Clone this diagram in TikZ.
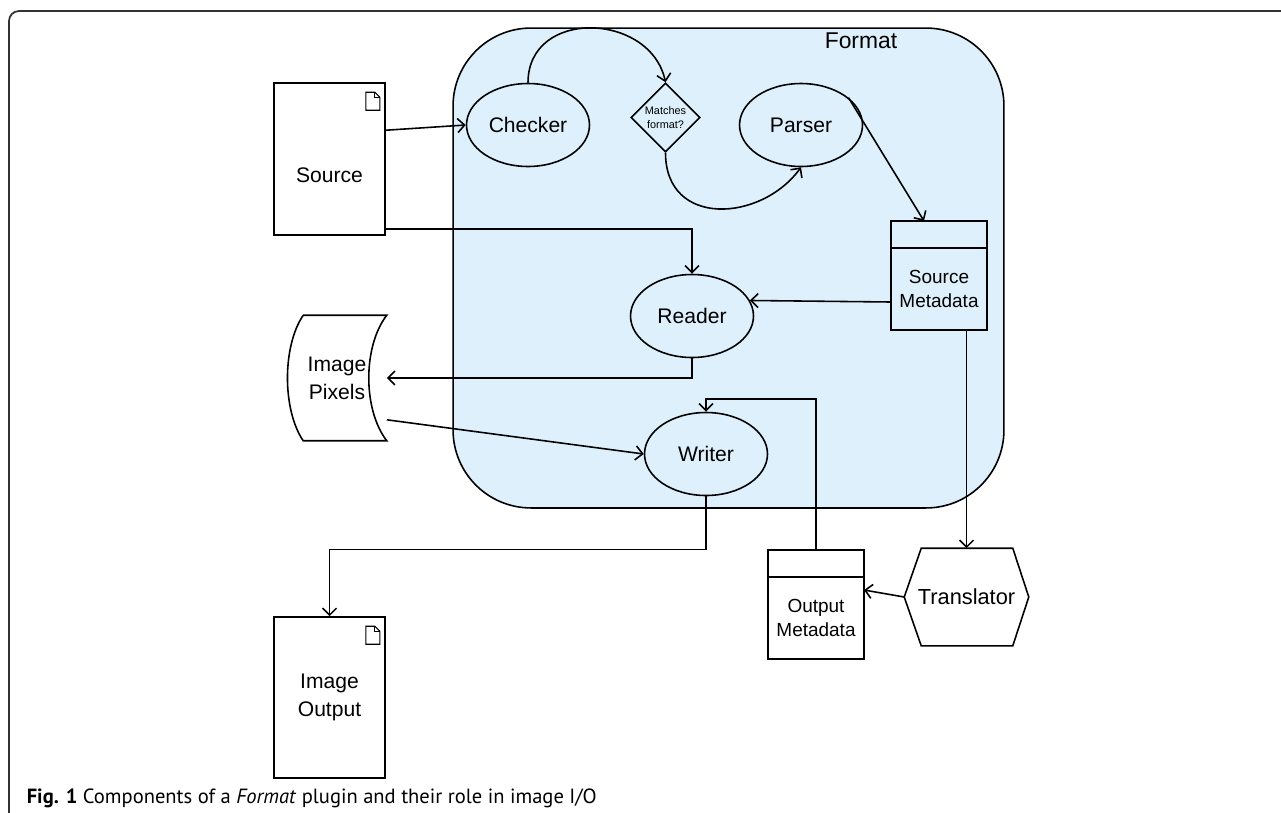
\documentclass[tikz,border=0pt]{standalone}
\usepackage{fontspec}
\setmainfont{Liberation Sans}
\newfontfamily\capfont{PT Sans}
\usetikzlibrary{shapes,arrows.meta,positioning,calc}
\definecolor{fmtblue}{RGB}{221,240,251}
\definecolor{framegray}{RGB}{50,50,50}

\begin{document}
\begin{tikzpicture}[
    x=0.02cm, y=-0.02cm,
    line width=0.9pt,
    fmtbox/.style={rectangle, draw, fill=fmtblue, rounded corners=1.56cm, minimum width=11.02cm, minimum height=9.6cm},
    proc/.style={ellipse, draw, minimum width=2.46cm, minimum height=1.66cm, inner sep=0pt, font=\fontsize{12}{14}\selectfont},
    doc/.style={rectangle, draw, minimum width=2.22cm, minimum height=3.04cm, align=center, font=\fontsize{12}{16}\selectfont},
    meta/.style={rectangle, draw, outer sep=0pt, minimum width=1.92cm, minimum height=1.64cm, inner sep=0pt, align=center, font=\fontsize{10.8}{14}\selectfont},
    metahead/.style={rectangle, draw, outer sep=0pt, minimum width=1.92cm, minimum height=0.54cm},
    decision/.style={diamond, draw, aspect=1, minimum width=1.38cm, minimum height=1.38cm, inner sep=0pt, align=center, font=\fontsize{6.2}{8}\selectfont},
    datastore/.style={rectangle, minimum width=1.96cm, minimum height=2.48cm, inner sep=0pt, align=center, font=\fontsize{12}{16}\selectfont},
    hexbox/.style={rectangle, minimum width=2.46cm, minimum height=1.92cm, inner sep=0pt, font=\fontsize{12.4}{14}\selectfont},
    arrow/.style={-{Straight Barb[length=4pt,width=8pt]}}
]
    \useasboundingbox (0,0) rectangle (1281,812);
    \draw[framegray, line width=1pt, rounded corners=0.2cm] (9,830) |- (1300,11);

    % the plugin
    \node[fmtbox] (fmt) at (728.5,268) {};
    \node[font=\fontsize{13}{15}\selectfont] (fmtlabel) at (861,41) {Format};

    \node[doc, text height=0.94cm, text depth=0pt] (src) at (329.5,159) {Source};
    \node[proc] (checker) at (528,125) {Checker};
    \node[decision] (match) at (665.5,117.5) {Matches\\format?};
    \node[proc] (parser) at (801,125) {Parser};
    \node[meta] (smeta) at (939,289) {Source\\Metadata};
    \node[metahead, above=0pt of smeta] (smetah) {};
    \node[proc] (reader) at (692,316) {Reader};
    \node[datastore] (pix) at (337,378) {Image\\Pixels};
    \node[proc] (writer) at (706,454) {Writer};
    \node[doc, minimum height=3.22cm] (out) at (329.5,697.5) {Image\\Output};
    \node[meta] (ometa) at (816,618) {Output\\Metadata};
    \node[metahead, above=0pt of ometa] (ometah) {};
    \node[hexbox] (tr) at (966.5,597) {Translator};

    % shapes drawn round their nodes
    \draw ($(pix.north west)+(16,0)$) -- (pix.north east) .. controls +(-24,31) and +(-24,-31) .. (pix.south east)
        -- ($(pix.south west)+(16,0)$) .. controls +(-21,-31) and +(-21,31) .. ($(pix.north west)+(16,0)$);
    \draw (tr.west) -- ($(tr.north west)+(17,0)$) -- ($(tr.north east)+(-16,0)$) -- (tr.east)
        -- ($(tr.south east)+(-16,0)$) -- ($(tr.south west)+(17,0)$) -- cycle;
    \foreach \d in {src,out} {
        \draw[line width=0.6pt] ($(\d.north east)+(-20,10)$) -- ++(9,0) -- ++(5,5) -- ++(0,13) -- ++(-14,0) -- cycle;
        \draw[line width=0.6pt] ($(\d.north east)+(-11,10)$) |- ++(5,5);
    }

    \draw[arrow] ($(src.north east)+(0,48)$) -- (checker.west);
    \draw[arrow] ($(src.south east)+(0,-7)$) -| (reader.north);
    \draw[arrow] (checker.north) .. controls +(0,-75) and +(-15,-70) .. (match.north);
    \draw[arrow] (match.south) .. controls +(0,75) and +(-40,55) .. (parser.south);
    \draw[arrow] (parser.30) -- ($(smetah.north)+(-15,0)$);
    \draw[arrow] ($(smeta.west)+(0,13)$) -- (reader.15);
    \draw[arrow] (reader.south) |- (pix.east);
    \draw[arrow] ($(pix.south east)+(0,-21)$) -- (writer.west);
    \draw[arrow] (writer.south) -- ++(0,53) -| (out.north);
    \draw[arrow] (ometah.north) -- ++(0,-151) -| (writer.north);
    \draw[arrow] (tr.north |- smeta.south) -- (tr.north);
    \draw[arrow] (tr.west) -- ($(ometa.east)+(0,-28)$);

    \node[anchor=base west, inner sep=0pt, font=\capfont\fontsize{11.7}{14}\selectfont] (caption) at (26,803)
        {\textbf{Fig. 1} Components of a \textit{Format} plugin and their role in image I/O};
\end{tikzpicture}
\end{document}
